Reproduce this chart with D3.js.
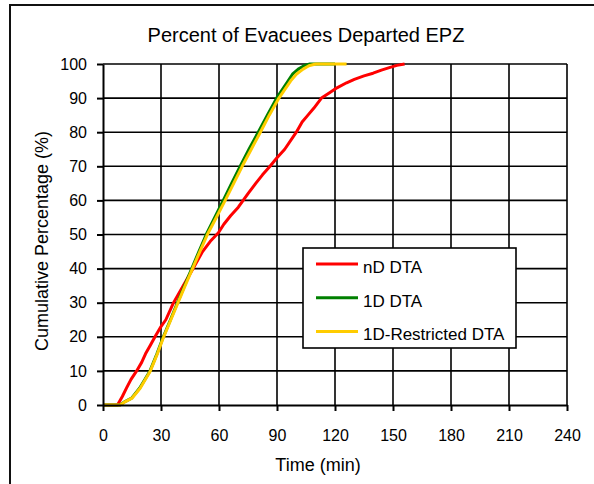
<!DOCTYPE html>
<html lang="en">
<head>
    <meta charset="UTF-8">
    <title>Percent of Evacuees Departed EPZ</title>
    <script src="https://d3js.org/d3.v7.min.js"></script>
    <style>
        body { margin: 0; background: #fff; }
        svg { font-family: "Liberation Sans", Arial, sans-serif; }
        .grid line { stroke: #000; stroke-width: 1.6px; }
        .axis path, .axis line { stroke: #000; stroke-width: 2px; }
        .axis text { font-size: 16px; fill: #000; }
        .series { fill: none; stroke-width: 3px; stroke-linejoin: round; }
    </style>
</head>
<body>
<div id="chart"></div>
<script>
    // Time ticks (min) and percent ticks
    const xTicks = [0, 30, 60, 90, 120, 150, 180, 210, 240];
    const yTicks = [0, 10, 20, 30, 40, 50, 60, 70, 80, 90, 100];

    // nD DTA (red)
    const ndTime = [0, 7.5, 10, 12.2, 14.5, 17.4, 20, 22, 24.5, 26.9, 30, 32.5, 36.5, 41.5, 46.6, 51.5, 55.5, 59.7, 62.5, 66, 70, 75, 79, 82.5, 86.4, 90, 94, 100, 103, 106, 109, 113, 117, 121, 126, 130, 135, 139.7, 144, 148.5, 152, 156];
    const ndPct  = [0, 0, 2.5, 5, 7.5, 10, 12.5, 15, 17.5, 20, 23, 25, 30, 35, 40, 45, 48, 50.5, 53, 55.5, 58, 62, 65, 67.5, 70, 72.5, 75, 80, 83, 85, 87, 90, 91.5, 93, 94.5, 95.5, 96.5, 97.3, 98.2, 99, 99.6, 100];

    // 1D DTA (green)
    const oneTime = [0, 8.8, 11.4, 14.8, 19, 24.3, 27.9, 31.2, 34.9, 38.5, 42.2, 45.9, 49.6, 53.4, 57.8, 62.2, 66.5, 70.9, 75.5, 80.3, 85, 89.8, 95.7, 98, 101, 104, 107, 120];
    const onePct  = [0, 0, 1, 2, 5, 10, 15, 20, 25, 30, 35, 40, 45, 50, 55, 60, 65, 70, 75, 80, 85, 90, 95, 97, 98.5, 99.5, 100, 100];

    // 1D-Restricted DTA (yellow)
    const resTime = [0, 9, 11.6, 15, 19.3, 24.5, 28.1, 31.4, 35.1, 38.8, 42.5, 46.3, 50.1, 54, 58.6, 63.2, 67.6, 72, 76.7, 81.4, 86, 91, 97, 100, 103.5, 106.5, 110, 126];
    const resPct  = [0, 0, 1, 2, 5, 10, 15, 20, 25, 30, 35, 40, 45, 50, 55, 60, 65, 70, 75, 80, 85, 90, 95, 97, 98.5, 99.5, 100, 100];

    const seriesNames = ["nD DTA", "1D DTA", "1D-Restricted DTA"];
    const seriesColors = ["#ff0000", "#008000", "#ffcc00"];

    const W = 594, H = 484;
    const plot = {left: 103, right: 567, top: 64, bottom: 405};

    const svg = d3.select("#chart").append("svg")
        .attr("width", W)
        .attr("height", H);

    // outer frame (runs off the right / bottom edge)
    svg.append("rect")
        .attr("x", 10).attr("y", 5)
        .attr("width", 600).attr("height", 500)
        .attr("fill", "none")
        .attr("stroke", "#111")
        .attr("stroke-width", 2);

    const x = d3.scaleLinear().domain([0, 240]).range([plot.left, plot.right]);
    const y = d3.scaleLinear().domain([0, 100]).range([plot.bottom, plot.top]);

    // grid lines
    const grid = svg.append("g").attr("class", "grid");
    grid.selectAll(".vg")
        .data(xTicks.slice(1))
        .enter().append("line")
        .attr("x1", d => x(d)).attr("x2", d => x(d))
        .attr("y1", plot.top).attr("y2", plot.bottom);
    grid.selectAll(".hg")
        .data(yTicks.slice(1))
        .enter().append("line")
        .attr("x1", plot.left).attr("x2", plot.right)
        .attr("y1", d => y(d)).attr("y2", d => y(d));

    // series
    const series = [
        {time: ndTime, pct: ndPct},
        {time: oneTime, pct: onePct},
        {time: resTime, pct: resPct}
    ];
    const line = d3.line().x(d => x(d[0])).y(d => y(d[1]));
    series.forEach((s, i) => {
        svg.append("path")
            .datum(d3.zip(s.time, s.pct))
            .attr("class", "series")
            .attr("stroke", seriesColors[i])
            .attr("d", line);
    });

    // axes
    svg.append("g")
        .attr("class", "axis")
        .attr("transform", `translate(0, ${plot.bottom})`)
        .call(d3.axisBottom(x).tickValues(xTicks).tickSize(6).tickSizeOuter(0).tickPadding(19));

    svg.append("g")
        .attr("class", "axis")
        .attr("transform", `translate(${plot.left}, 0)`)
        .call(d3.axisLeft(y).tickValues(yTicks).tickSize(6).tickSizeOuter(0).tickPadding(10));

    // title and axis labels
    svg.append("text")
        .attr("x", 306).attr("y", 42)
        .attr("text-anchor", "middle")
        .style("font-size", "20px")
        .text("Percent of Evacuees Departed EPZ");

    svg.append("text")
        .attr("x", 318).attr("y", 471)
        .attr("text-anchor", "middle")
        .style("font-size", "18px")
        .text("Time (min)");

    svg.append("text")
        .attr("transform", "translate(48, 241) rotate(-90)")
        .attr("text-anchor", "middle")
        .style("font-size", "18px")
        .text("Cumulative Percentage (%)");

    // legend
    const legend = svg.append("g").attr("transform", "translate(303, 248)");
    legend.append("rect")
        .attr("width", 213).attr("height", 100)
        .attr("fill", "#fff")
        .attr("stroke", "#000")
        .attr("stroke-width", 1.6);

    const rows = legend.selectAll(".row")
        .data(seriesNames)
        .enter().append("g")
        .attr("transform", (d, i) => `translate(0, ${16 + i * 33.7})`);

    rows.append("line")
        .attr("x1", 13).attr("x2", 55)
        .attr("stroke", (d, i) => seriesColors[i])
        .attr("stroke-width", 3);

    rows.append("text")
        .attr("x", 60).attr("y", 9)
        .style("font-size", "17px")
        .text(d => d);
</script>
</body>
</html>
